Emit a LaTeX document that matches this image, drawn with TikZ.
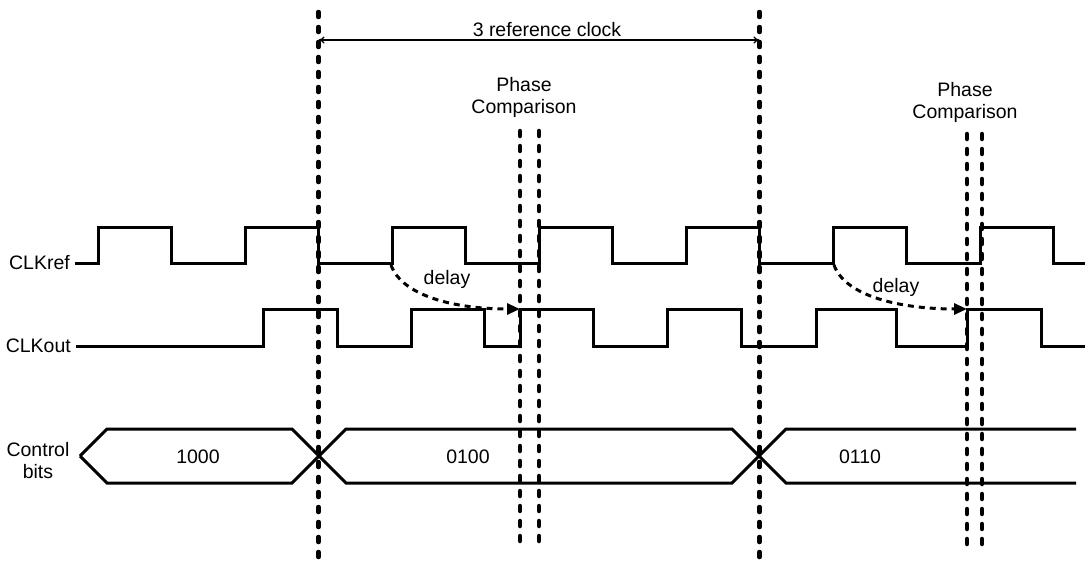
\documentclass[tikz,border=0pt]{standalone}
\usepackage{fontspec}
\setmainfont{Liberation Sans}
\usetikzlibrary{arrows.meta}
\begin{document}
\begin{tikzpicture}[x=1pt,y=-1pt,
  wave/.style={line width=3pt, line join=miter},
  vdash/.style={line width=4.5pt, line cap=round, dash pattern=on 5pt off 10pt},
  delayarrow/.style={line width=3pt, dash pattern=on 6pt off 5pt, -{Triangle[length=13pt,width=11pt]}},
  lbl/.style={font=\fontsize{19.5}{22}\selectfont, inner sep=0pt, align=center},
]
\useasboundingbox (0,0) rectangle (1085,565);
% labels
\node[lbl, anchor=east] (lref) at (70,263) {CLKref};
\node[lbl, anchor=east] (lout) at (71,346) {CLKout};
\node[lbl] (lctrl) at (38,461) {Control\\bits};
% CLKref
\draw[wave] (lref.east) ++(5,0) coordinate (r0)
  (r0) -- (98,263) -- (98,227) -- (171.5,227) -- (171.5,263) -- (245,263) -- (245,227)
  -- (318.5,227) -- (318.5,263) -- (392,263) -- (392,227) -- (465.5,227) -- (465.5,263)
  -- (539,263) -- (539,227) -- (612.5,227) -- (612.5,263) -- (686,263) -- (686,227)
  -- (759.5,227) -- (759.5,263) -- (833,263) -- (833,227) -- (906.5,227) -- (906.5,263)
  -- (980,263) -- (980,227) -- (1053.5,227) -- (1053.5,263) -- (1085,263);
% CLKout
\draw[wave] (lout.east) ++(5,0) coordinate (o0)
  (o0) -- (263,346) -- (263,309) -- (337,309) -- (337,346) -- (411,346) -- (411,309)
  -- (484,309) -- (484,346) -- (520,346) -- (520,309) -- (593,309) -- (593,346)
  -- (667,346) -- (667,309) -- (741,309) -- (741,346) -- (816,346) -- (816,309)
  -- (896,309) -- (896,346) -- (967,346) -- (967,309) -- (1041,309) -- (1041,346) -- (1085,346);
% control bits
\draw[wave] (80,456) -- (107,429) -- (292,429) -- (346,483) -- (732,483) -- (786,429) -- (1076,429);
\draw[wave] (80,456) -- (107,483) -- (292,483) -- (346,429) -- (732,429) -- (786,483) -- (1076,483);
\node[lbl] (t1000) at (198,457) {1000};
\node[lbl] (t0100) at (468,457) {0100};
\node[lbl] (t0110) at (860,457) {0110};
% vertical dashed lines
\draw[vdash] (318.5,12) -- (318.5,565);
\draw[vdash] (759.5,12) -- (759.5,565);
\draw[vdash] (520,131) -- (520,550);
\draw[vdash] (539,131) -- (539,550);
\draw[vdash] (967,134) -- (967,550);
\draw[vdash] (982,134) -- (982,550);
% span arrow
\coordinate (sa) at (318.5,40);
\coordinate (sb) at (759.5,40);
\draw[line width=1.3pt, {To[length=6pt,width=7pt]}-{To[length=6pt,width=7pt]}] (sa) -- (sb);
\node[lbl, anchor=base] (span) at (547,36) {3 reference clock};
% phase comparison labels
\node[lbl] (pc1) at (524,97) {Phase\\Comparison};
\node[lbl] (pc2) at (965,102) {Phase\\Comparison};
% delay arrows
\coordinate (ds1) at (391,265);
\coordinate (de1) at (520,309);
\coordinate (ds2) at (834,265);
\coordinate (de2) at (967,309);
\draw[delayarrow] (ds1) .. controls (402,296) and (455,309) .. (de1);
\draw[delayarrow] (ds2) .. controls (845,296) and (900,309) .. (de2);
\node[lbl] (d1) at (447,279) {delay};
\node[lbl] (d2) at (896,287) {delay};
\end{tikzpicture}
\end{document}
